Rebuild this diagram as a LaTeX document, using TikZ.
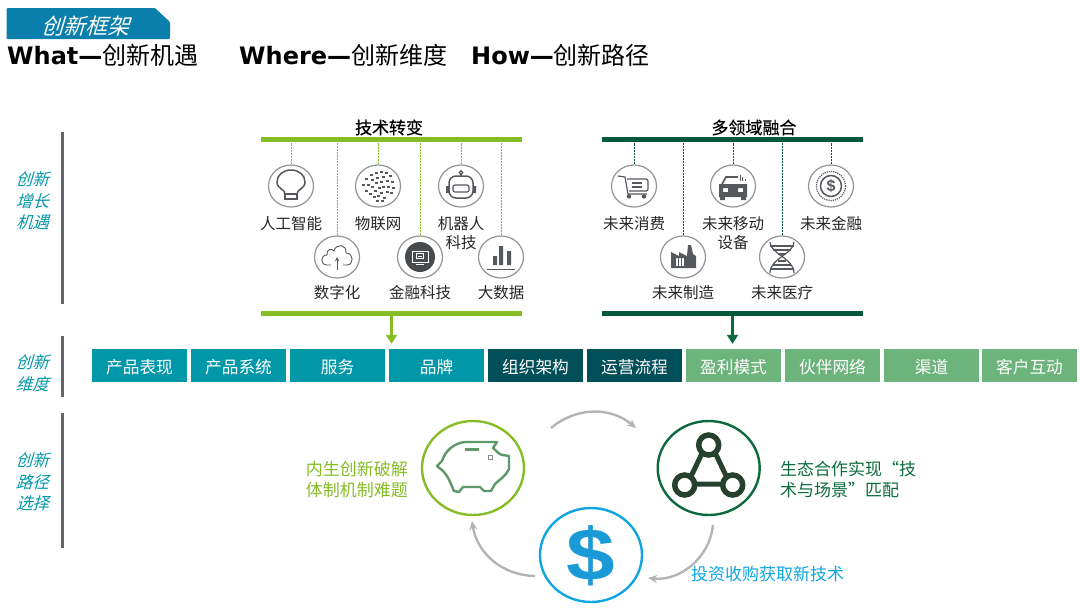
\documentclass[tikz,border=0pt]{standalone}
\usepackage{fontspec}
\setmainfont{Noto Sans CJK SC}
\newfontfamily\cjkslant[FakeSlant=0.3]{Noto Sans CJK SC}
\newfontfamily\cjkheavy[FakeBold=0.4]{Noto Sans CJK SC}
\newfontfamily\latinbold{DejaVu Sans Bold}
\newfontfamily\dollarfont{Liberation Sans Bold}
\usetikzlibrary{positioning,shapes.geometric,arrows.meta}
\definecolor{tabblue}{HTML}{0A7FAC}
\definecolor{leafgreen}{HTML}{86BC25}
\definecolor{pinegreen}{HTML}{04593A}
\definecolor{ecogreen}{HTML}{0B6B3F}
\definecolor{teal}{HTML}{0097A9}
\definecolor{deepteal}{HTML}{004F59}
\definecolor{softgreen}{HTML}{6DB37C}
\definecolor{skyblue}{HTML}{0FA5E0}
\definecolor{signblue}{HTML}{1A9AD6}
\definecolor{netdark}{HTML}{27412F}
\definecolor{slate}{HTML}{63666A}
\definecolor{icongray}{HTML}{55585C}
\definecolor{arcgray}{HTML}{B2B4B6}
\tikzset{
  headline/.style = {anchor=west, inner sep=0, font=\fontsize{24}{24}\selectfont},
  sidelabel/.style = {align=center, text=teal, font=\fontsize{16.5}{21.5}\cjkslant},
  sidebar/.style = {line width=3pt, draw=slate},
  bartitle/.style = {font=\fontsize{17}{18}\cjkheavy},
  hbar/.style = {inner sep=0, minimum width=261pt, minimum height=5.5pt},
  ring/.style = {shape=ellipse, draw=slate!70, line width=1.2pt, fill=none,
    inner sep=0, minimum width=45pt, minimum height=42pt},
  drop/.style = {line width=1pt, dash pattern=on 2pt off 1pt},
  iconlabel/.style = {align=center, inner sep=0, text=black!85,
    font=\fontsize{15.5}{19}\selectfont},
  box/.style = {inner sep=0, minimum width=95pt, minimum height=33pt,
    text height=16pt, text depth=.4pt, text=white, font=\fontsize{16.7}{18}\selectfont},
  bigring/.style = {shape=ellipse, line width=2.4pt, inner sep=0,
    minimum width=102pt, minimum height=94pt},
  pathtext/.style = {align=left, inner sep=0, font=\fontsize{17}{21}\selectfont},
  arcarrow/.style = {draw=arcgray, line width=2.4pt, -{Stealth[length=9pt,width=8pt]}},
  downarrow/.style = {line width=3pt, shorten >=5pt, -{Triangle[length=9pt,width=11pt]}},
  ico/.style = {draw=icongray, line width=1.2pt}
}
\begin{document}
\begin{tikzpicture}[x=1pt, y=-1pt]
  \useasboundingbox (0,0) rectangle (1080,611);

  \fill[tabblue, rounded corners=1pt] (6.5,39) -- (6.5,8) -- (155,8) -- (170,22) -- (170,39) -- cycle;
  \node[text=white, inner sep=0, font=\fontsize{22}{22}\cjkslant] (tabtitle) at (85.5,26) {创新框架};
  \node[headline] (what) at (7,55) {{\latinbold What—}创新机遇};
  \node[headline] (where) at (239,55) {{\latinbold Where—}创新维度};
  \node[headline] (how) at (471,55) {{\latinbold How—}创新路径};

  \draw[sidebar] (62,132) -- (62,304);
  \draw[sidebar] (62,336) -- (62,397);
  \draw[sidebar] (62,413) -- (62,548);
  \node[sidelabel] (side1) at (32.5,201) {创新\\增长\\机遇};
  \node[sidelabel] (side2) at (32.5,373) {创新\\维度};
  \node[sidelabel] (side3) at (32.5,482) {创新\\路径\\选择};

  \node[hbar, fill=leafgreen] (techtop) at (391.5,139.7) {};
  \node[hbar, fill=leafgreen] (techbot) at (391.5,313.5) {};
  \node[hbar, fill=pinegreen] (fieldtop) at (732.5,139.7) {};
  \node[hbar, fill=pinegreen] (fieldbot) at (732.5,313.5) {};
  \node[bartitle] (techtitle) at (389,127.5) {技术转变};
  \node[bartitle] (fieldtitle) at (754,127.5) {多领域融合};

  \foreach \id/\x/\y/\ly/\lab in {ai/291/186/216.5/人工智能, iot/378/186/216.5/物联网, robot/461/186/216.5/{机器人\\科技},
      cloud/337/257/285/数字化, fintech/420/257/285/金融科技, bigdata/501/257/285/大数据} {
    \node[ring] (\id) at (\x,\y) {};
    \draw[leafgreen, drop] (\id.north) -- (\id.north |- techtop.south);
    \node[iconlabel, anchor=north] (\id label) at (\x,\ly) {\lab};
  }
  \foreach \id/\x/\y/\ly/\lab in {cart/634/186/216.5/未来消费, car/733/186/216.5/{未来移动\\设备}, coin/831/186/216.5/未来金融,
      factory/683/257/285/未来制造, dna/782/257/285/未来医疗} {
    \node[ring] (\id) at (\x,\y) {};
    \draw[pinegreen, drop] (\id.north) -- (\id.north |- fieldtop.south);
    \node[iconlabel, anchor=north] (\id label) at (\x,\ly) {\lab};
  }

  \begin{scope}[shift={(ai)}]
    \draw[ico, line width=1.5pt] (-6,8) .. controls (-6,3) and (-14,3) .. (-14,-4)
      .. controls (-14,-11) and (-8,-16) .. (0,-16) .. controls (8,-16) and (14,-11) .. (14,-4)
      .. controls (14,3) and (6,3) .. (6,8) -- cycle;
    \draw[ico] (-6,8) rectangle (6,13);
  \end{scope}
  \begin{scope}[shift={(iot)}]
    \foreach \px/\py in {-15/-1,-12/-7,-7/-11,-2/-13,3/-14,8/-13,12/-10,14/-4,15/2,-10/-1,-6/-6,-1/-8,
        5/-9,9/-5,10/1,13/7,-12/5,-6/1,-2/-3,3/-4,5/1,9/6,-8/8,-3/5,1/2,3/7,6/12,
        -4/11,0/10,-1/15,4/15}
      \fill[icongray] (\px-1.5,\py-1) rectangle (\px+1.5,\py+.8);
  \end{scope}
  \begin{scope}[shift={(robot)}]
    \draw[ico] (0,-10) -- (0,-12);
    \draw[ico] (0,-13.5) circle (1.8);
    \draw[ico, line width=1.5pt, rounded corners=7pt] (-12,12) -- (-12,-10) -- (12,-10) -- (12,12) -- cycle;
    \draw[ico, rounded corners=2pt] (-8,-1) rectangle (8,6);
    \fill[icongray] (-15,0) rectangle (-12,7) (12,0) rectangle (15,7);
  \end{scope}
  \begin{scope}[shift={(cloud)}]
    \draw[ico, line width=.9pt] (-6,8) -- (-10,8) .. controls (-17,8) and (-17,-2) .. (-10,-2)
      .. controls (-11,-8) and (-5,-9) .. (-3,-6) .. controls (-1,-14) and (10,-13) .. (9,-4)
      .. controls (17,-4) and (17,8) .. (10,8) -- (6,8);
    \draw[ico, line width=.9pt, -stealth] (0,13) -- (0,0);
  \end{scope}
  \begin{scope}[shift={(fintech)}]
    \fill[icongray!85!black] (0,0) circle (15);
    \draw[white, line width=1pt] (-8,-6) rectangle (8,5);
    \draw[white, line width=1pt] (-3.5,-3.5) rectangle (3.5,1.5);
    \draw[white, line width=1pt] (-2,-1) -- (2,-1) (-4,7.5) -- (4,7.5);
  \end{scope}
  \begin{scope}[shift={(bigdata)}]
    \fill[icongray] (-8,-1) rectangle (-4,8) (-2,-11) rectangle (2,8) (6,-6) rectangle (10,8);
    \draw[ico, line width=.8pt] (-14,12) -- (14,12);
  \end{scope}
  \begin{scope}[shift={(cart)}]
    \draw[ico] (-16,-10) -- (-9,-9) -- (-6,8) -- (13,8);
    \draw[ico, rounded corners=2pt] (-7,-7) -- (14,-7) -- (14,5) -- (-5,5);
    \draw[ico] (-2,-3) -- (8,-3) (-2,1) -- (8,1);
    \fill[icongray] (-5,10.5) circle (2.2) (10,10.5) circle (2.2);
  \end{scope}
  \begin{scope}[shift={(car)}]
    \draw[ico, line width=1.6pt] (-11,-2) -- (-7,-9) -- (5,-9);
    \fill[icongray, even odd rule] (-14,-2) rectangle (14,11)
      (-10,2) rectangle (-5,6) (5,2) rectangle (10,6);
    \fill[icongray] (-13,11) rectangle (-8,14) (8,11) rectangle (13,14);
    \draw[ico, line width=.8pt] (7,-5) -- (7,-11) (9.5,-5) -- (9.5,-9) (12,-5) -- (12,-7);
  \end{scope}
  \begin{scope}[shift={(coin)}]
    \draw[ico, densely dotted, line width=1.2pt] (0,0) circle (14.5);
    \draw[ico, line width=1.5pt] (0,0) circle (10.5);
    \node[text=icongray, inner sep=0, font=\fontsize{16}{16}\dollarfont] (coinsign) at (0,0) {\$};
  \end{scope}
  \begin{scope}[shift={(factory)}]
    \fill[icongray, even odd rule] (-12,11) -- (-12,-5) -- (-4,-1) -- (-4,-5) -- (4,-1) -- (5,-12) -- (8,-12)
      -- (10,-3) -- (13,-1) -- (13,11) -- cycle (-7,1) rectangle (1,9);
    \draw[icongray, line width=1pt] (-4.5,1) -- (-4.5,9) (-1.5,1) -- (-1.5,9);
  \end{scope}
  \begin{scope}[shift={(dna)}]
    \draw[ico] (-12,-15) .. controls (-12,-3) and (12,1) .. (12,16);
    \draw[ico] (12,-15) .. controls (12,-3) and (-12,1) .. (-12,16);
    \draw[ico] (-12,-11) -- (12,-11) (-9,-7) -- (9,-7) (-4,-3) -- (4,-3) (-4,4) -- (4,4) (-9,8) -- (9,8) (-12,12) -- (12,12);
  \end{scope}

  \foreach \id/\x/\lab/\col in {prod/139.5/产品表现/teal, system/238.5/产品系统/teal, service/337.5/服务/teal,
      brand/436.5/品牌/teal, org/535.5/组织架构/deepteal, flow/634.5/运营流程/deepteal,
      profit/733.5/盈利模式/softgreen, partner/832.5/伙伴网络/softgreen, channel/931.5/渠道/softgreen,
      client/1029.5/客户互动/softgreen}
    \node[box, fill=\col] (\id) at (\x,365.5) {\lab};
  \draw[leafgreen, downarrow] (techbot.south) -- (techbot.south |- prod.north);
  \draw[ecogreen, downarrow] (fieldbot.south) -- (fieldbot.south |- prod.north);

  \node[bigring, draw=leafgreen] (pig) at (473,468) {};
  \node[bigring, draw=ecogreen] (net) at (708.7,468) {};
  \node[bigring, draw=skyblue] (money) at (591,555) {};
  \node[text=signblue, inner sep=0, xscale=1.18, transform shape, font=\fontsize{74}{74}\dollarfont] (moneysign) at (591,556) {\$};
  \node[pathtext, align=right, anchor=east, text=leafgreen] (pigtext) at (408,479.5) {内生创新破解\\体制机制难题};
  \node[pathtext, anchor=west, text=ecogreen] (nettext) at (780,479.5) {生态合作实现“技\\术与场景”匹配};
  \node[pathtext, anchor=west, text=skyblue] (moneytext) at (691,574.5) {投资收购获取新技术};

  \begin{scope}[shift={(pig)}]
    \draw[softgreen!85!black, line width=2.4pt, line join=round] (24,-26) -- (20,-20)
      .. controls (24,-17) and (26,-13) .. (30,-13) -- (36,-12) -- (36,1)
      .. controls (33,8) and (26,12) .. (22,16) -- (18,23) -- (11,23) -- (7,19) -- (-10,19) -- (-14,24) -- (-19,23)
      .. controls (-22,17) and (-24,9) .. (-30,3) -- (-36,-2) -- (-31,-7)
      .. controls (-28,-17) and (-19,-25) .. (-8,-26) -- cycle;
    \draw[softgreen!85!black, line width=3pt] (-8,-19) -- (6,-19);
    \draw[icongray!70, line width=.8pt] (15,-13) rectangle (19,-9);
  \end{scope}
  \begin{scope}[shift={(net)}]
    \draw[netdark, line width=5.5pt] (0,-23) circle (10) (-24,17) circle (10) (24,17) circle (10);
    \draw[netdark, line width=5pt] (-7,-14) -- (-17,7) (7,-14) -- (17,7) (-14,16) -- (14,16);
  \end{scope}

  \coordinate (pigout) at (551,428);
  \coordinate (netin) at (636,428);
  \coordinate (netout) at (713,525);
  \coordinate (moneyin) at (648,578);
  \coordinate (moneyout) at (535,576);
  \coordinate (pigin) at (472,521);
  \draw[arcarrow] (pigout) to[bend left=40] (netin);
  \draw[arcarrow] (netout) to[bend left=45] (moneyin);
  \draw[arcarrow] (moneyout) to[bend left=40] (pigin);
\end{tikzpicture}
\end{document}
